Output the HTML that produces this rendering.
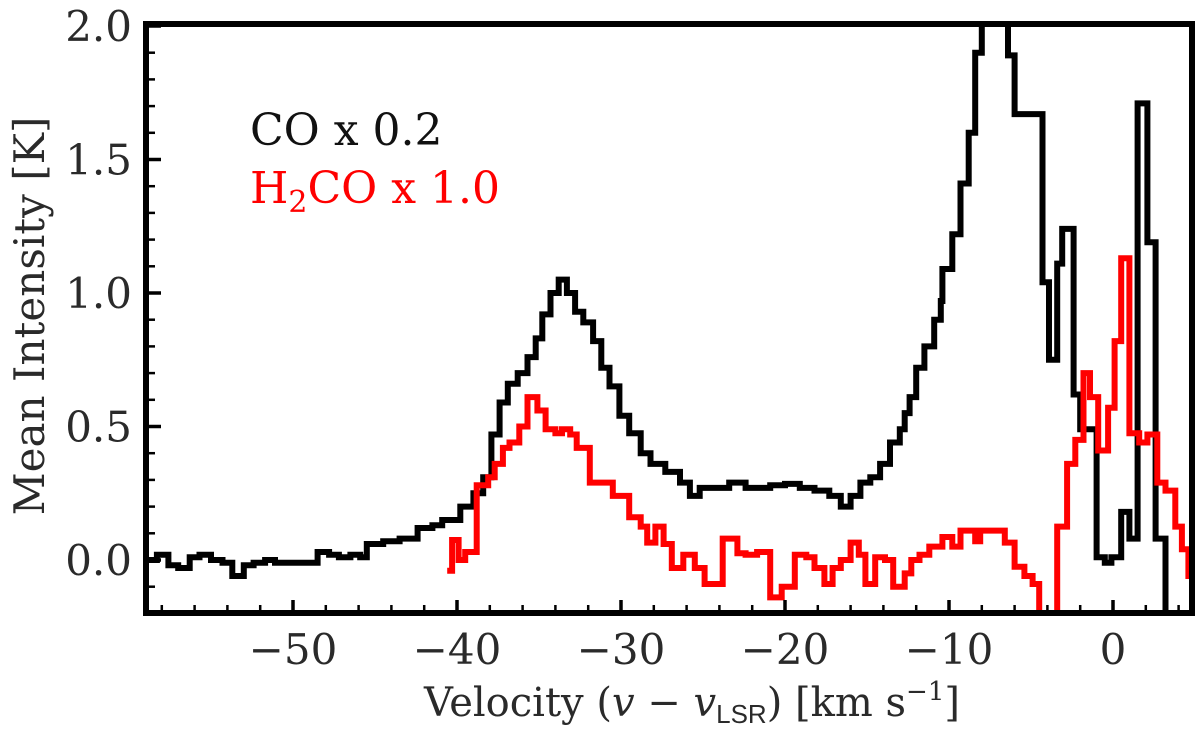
<!DOCTYPE html>
<html><head><meta charset="utf-8"><style>
body{margin:0;background:#fff;width:1200px;height:734px;overflow:hidden}
svg{display:block}
text{font-family:"DejaVu Serif","Liberation Serif",serif;fill:#2a2a2a}
</style></head><body>
<svg id="chart" width="1200" height="734" viewBox="0 0 1200 734">
<defs><clipPath id="pc"><rect x="146" y="24" width="1046" height="589"/></clipPath></defs>
<g id="series" clip-path="url(#pc)"></g>
<g id="axes"></g>
<rect x="146" y="24" width="1046" height="589" fill="none" stroke="#000" stroke-width="6"/>
<text x="250" y="145" font-size="44" style="fill:#111">CO x 0.2</text>
<text x="250" y="203" font-size="44" style="fill:#f00">H<tspan font-size="30" dy="9">2</tspan><tspan dy="-9">CO x 1.0</tspan></text>
<text x="692" y="716" font-size="40" text-anchor="middle">Velocity (<tspan font-style="italic">v</tspan> − <tspan font-style="italic">v</tspan><tspan font-size="26" dy="7" font-family="Liberation Sans">LSR</tspan><tspan dy="-7">) [km s</tspan><tspan font-size="26" dy="-16">−1</tspan><tspan dy="16">]</tspan></text>
<text transform="translate(44,316) rotate(-90)" font-size="42" text-anchor="middle">Mean Intensity [K]</text>
</svg>
<script>
const coVel=[-59.0,-58.3,-57.6,-57.0,-56.3,-55.7,-55.0,-54.3,-53.7,-53.0,-52.4,-51.7,-51.1,-50.4,-49.8,-49.1,-48.5,-47.8,-47.2,-46.5,-45.9,-45.5,-44.5,-43.5,-42.4,-41.5,-40.9,-39.8,-39.0,-38.4,-37.9,-37.4,-36.9,-36.3,-35.7,-35.2,-34.8,-34.3,-33.8,-33.3,-32.8,-32.3,-31.7,-31.2,-30.7,-30.1,-29.5,-28.8,-28.2,-27.3,-26.4,-25.8,-25.2,-24.3,-23.4,-22.4,-21.5,-20.9,-20.0,-19.1,-18.2,-17.3,-16.6,-16.0,-15.4,-14.8,-14.2,-13.6,-13.0,-12.7,-12.4,-12.0,-11.5,-10.9,-10.5,-10.4,-9.8,-9.3,-8.8,-8.4,-8.0,-6.4,-6.0,-4.3,-3.9,-3.4,-3.1,-2.4,-2.0,-1.0,-0.5,-0.1,0.5,1.0,1.5,2.1,2.6,3.2,4.8];
const coVal=[0.0,0.02,-0.02,-0.03,0.01,0.02,0.0,-0.01,-0.06,-0.02,-0.01,0.0,-0.01,-0.01,-0.01,-0.01,0.03,0.02,0.01,0.02,0.01,0.06,0.07,0.08,0.12,0.13,0.15,0.2,0.25,0.31,0.47,0.59,0.66,0.70,0.76,0.83,0.92,1.0,1.05,1.0,0.93,0.89,0.82,0.72,0.65,0.54,0.475,0.40,0.36,0.33,0.29,0.24,0.27,0.27,0.29,0.27,0.27,0.28,0.285,0.27,0.26,0.24,0.2,0.24,0.29,0.31,0.36,0.44,0.49,0.55,0.61,0.72,0.80,0.90,0.97,1.09,1.22,1.41,1.60,1.90,2.1,1.89,1.67,1.04,0.75,1.11,1.24,0.62,0.49,0.01,-0.01,0.01,0.18,0.08,1.71,1.19,0.08,-0.3];
const h2coVel=[-40.6,-40.3,-39.9,-39.5,-38.8,-38.1,-37.7,-37.2,-36.8,-36.2,-35.7,-35.1,-34.6,-34.0,-33.6,-33.1,-32.7,-31.9,-31.0,-30.5,-29.5,-28.8,-28.4,-27.9,-27.4,-26.9,-26.2,-25.5,-24.9,-23.8,-22.9,-22.4,-21.7,-20.9,-20.2,-19.4,-18.7,-18.2,-17.6,-17.1,-16.6,-16.0,-15.5,-15.1,-14.5,-13.9,-13.4,-12.7,-12.3,-11.8,-11.2,-10.4,-9.8,-9.3,-8.4,-8.1,-6.6,-6.0,-5.4,-4.9,-4.5,-3.4,-2.8,-2.3,-1.8,-1.4,-0.9,-0.3,0.1,0.5,1.0,1.6,2.1,2.7,3.2,3.8,4.2,4.6,4.8];
const h2coVal=[-0.04,0.075,0.0,0.03,0.28,0.31,0.36,0.42,0.44,0.5,0.61,0.56,0.49,0.475,0.49,0.47,0.42,0.29,0.29,0.24,0.16,0.125,0.065,0.125,0.06,-0.03,0.02,-0.03,-0.09,0.08,0.025,0.02,0.03,-0.14,-0.1,0.02,0.01,-0.03,-0.09,-0.03,0.0,0.065,0.02,-0.09,0.01,0.0,-0.1,-0.05,0.0,0.02,0.05,0.086,0.05,0.11,0.07,0.11,0.065,-0.025,-0.06,-0.09,-0.3,0.125,0.36,0.45,0.7,0.61,0.41,0.57,0.82,1.13,0.475,0.44,0.47,0.29,0.26,0.125,0.04,-0.06];
const xTicks=[-50,-40,-30,-20,-10,0];
const xTickLabels=["−50","−40","−30","−20","−10","0"];
const yTicks=[0,0.5,1,1.5,2];
const yTickLabels=["0.0","0.5","1.0","1.5","2.0"];

const NS="http://www.w3.org/2000/svg";
const X=v=>1113+v*16.4;
const Y=t=>560-t*267;
function step(vel,val,color,name){
  let d="";
  for(let i=0;i<val.length;i++){
    const x0=X(vel[i]),x1=X(vel[i+1]),y=Y(val[i]);
    d+=(i===0?"M":"L")+x0.toFixed(1)+","+y.toFixed(1)+"L"+x1.toFixed(1)+","+y.toFixed(1);
  }
  const p=document.createElementNS(NS,"path");
  p.setAttribute("d",d);p.setAttribute("fill","none");p.setAttribute("stroke",color);
  p.setAttribute("stroke-width","6");p.setAttribute("stroke-linejoin","miter");
  
  
  document.getElementById("series").appendChild(p);
}
step(coVel,coVal,"#000","co-spectrum");
step(h2coVel,h2coVal,"#f00","h2co-spectrum");
const ax=document.getElementById("axes");
function line(x1,y1,x2,y2,w){const l=document.createElementNS(NS,"line");
  l.setAttribute("x1",x1);l.setAttribute("y1",y1);l.setAttribute("x2",x2);l.setAttribute("y2",y2);
  l.setAttribute("stroke","#000");l.setAttribute("stroke-width",w);ax.appendChild(l);return l;}
for(let v=-58;v<=4;v+=2){const x=X(v);const major=v%10===0;
  const t=line(x,613,x,613-(major?13:8),major?3.5:2.5);
  
  }
xTicks.forEach((v,i)=>{const t=document.createElementNS(NS,"text");
  t.setAttribute("x",X(v));t.setAttribute("y",664);t.setAttribute("font-size","42");t.setAttribute("text-anchor","middle");
  t.textContent=xTickLabels[i];
  
  
  ax.appendChild(t);});
for(let k=-2;k<=20;k++){const y=Y(k/10);const major=k%5===0;
  const t=line(146,y,146+(major?15:9),y,major?3.5:2.5);
  
  }
yTicks.forEach((v,i)=>{const t=document.createElementNS(NS,"text");
  t.setAttribute("x",132);t.setAttribute("y",Y(v)+15);t.setAttribute("font-size","42");t.setAttribute("text-anchor","end");
  t.textContent=yTickLabels[i];
  
  
  ax.appendChild(t);});
</script>
</body></html>
